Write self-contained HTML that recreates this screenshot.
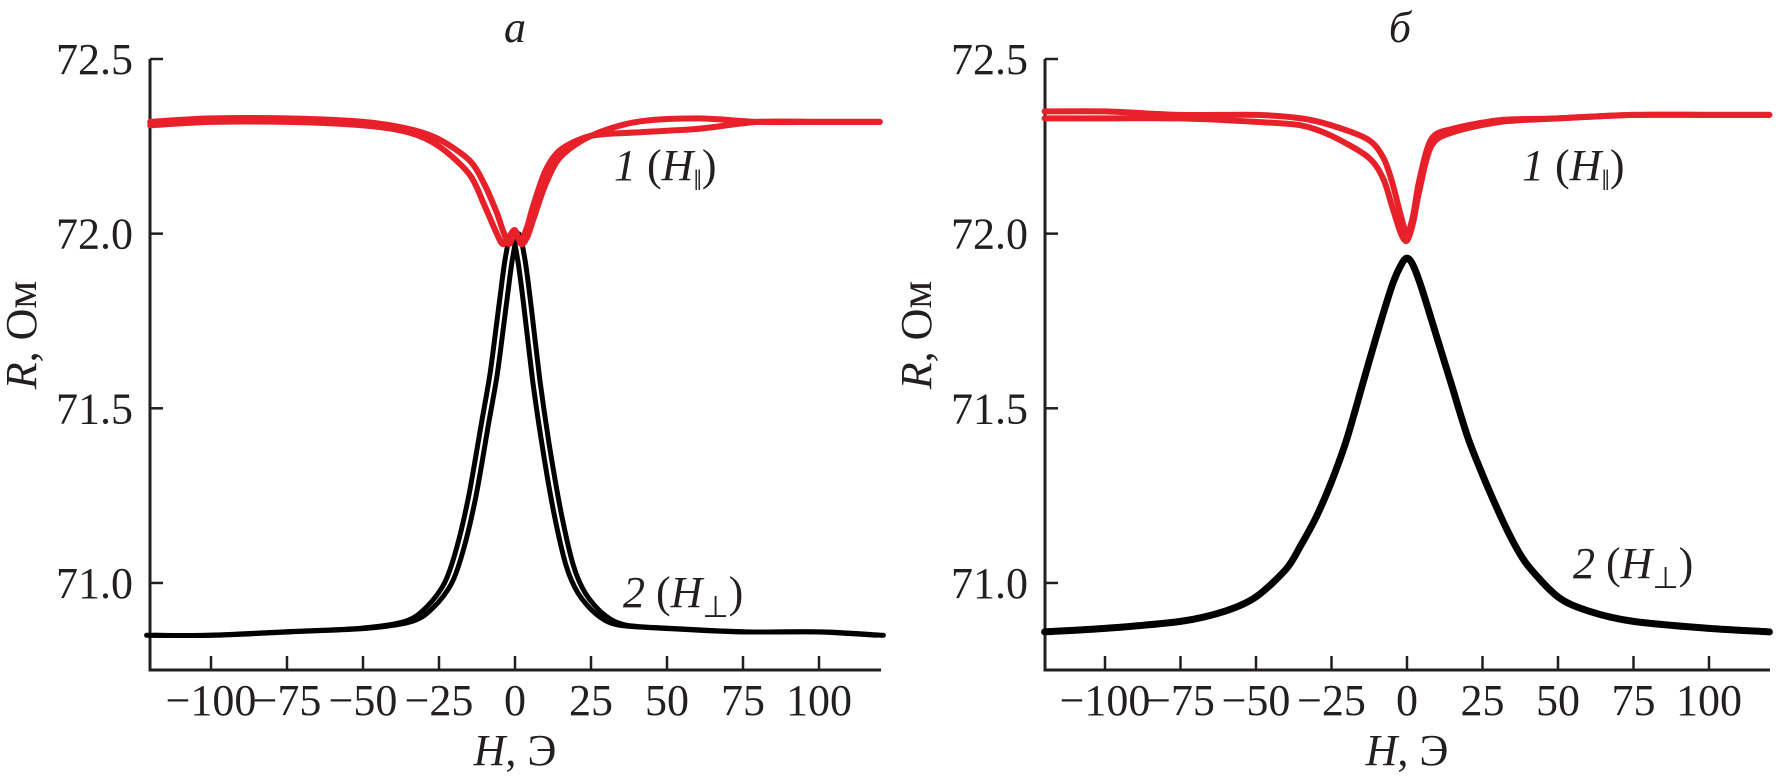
<!DOCTYPE html>
<html><head><meta charset="utf-8"><style>
html,body{margin:0;padding:0;background:#fff}
svg{display:block}
text{font-family:"Liberation Serif",serif;fill:#231f20}
</style></head><body>
<svg id="chart" width="1782" height="781" viewBox="0 0 1782 781">
<g id="panelA"></g>
<g id="panelB"></g>
</svg>
<script>
const xTicks=[-100,-75,-50,-25,0,25,50,75,100];
const yTicks=[71.0,71.5,72.0,72.5];
const yTickLabels=["71.0","71.5","72.0","72.5"];

const redA_H=[-120,-100,-75,-50,-35,-25,-15,-10,-6,-4,-2,0,2,4,6,10,15,25,40,60,80,100,120];
const redA1_R=[72.32,72.33,72.33,72.32,72.30,72.27,72.21,72.14,72.06,72.01,71.97,72.00,71.98,72.02,72.08,72.18,72.24,72.28,72.29,72.30,72.32,72.32,72.32];
const redA2_R=[72.31,72.32,72.32,72.31,72.29,72.25,72.17,72.08,72.00,71.97,71.99,72.01,71.97,71.99,72.04,72.14,72.22,72.28,72.32,72.33,72.32,72.32,72.32];
const blackA_H=[-120,-100,-75,-50,-35,-28,-22,-18,-14,-10,-7,-4,-2,0,2,4,7,10,14,18,22,28,35,50,75,100,120];
const blackA_R=[70.85,70.85,70.86,70.87,70.89,70.93,71.0,71.1,71.25,71.45,71.6,71.8,71.93,72.0,71.93,71.8,71.58,71.4,71.2,71.05,70.97,70.91,70.88,70.87,70.86,70.86,70.85];

const redB_H=[-120,-100,-75,-50,-35,-25,-13,-8,-5,-2,0,2,4,8,15,31,50,75,100,120];
const redB1_R=[72.35,72.35,72.34,72.34,72.33,72.31,72.27,72.22,72.15,72.05,72.0,72.05,72.15,72.27,72.30,72.325,72.33,72.34,72.34,72.34];
const redB2_R=[72.33,72.33,72.33,72.32,72.31,72.28,72.22,72.16,72.08,72.0,71.98,72.03,72.12,72.25,72.29,72.32,72.33,72.34,72.34,72.34];
const blackB_H=[-120,-100,-75,-60,-50,-40,-35,-30,-25,-20,-15,-10,-5,-2,0,2,5,10,15,20,25,30,35,40,50,60,75,100,120];
const blackB_R=[70.86,70.87,70.89,70.92,70.96,71.04,71.11,71.19,71.29,71.41,71.56,71.71,71.85,71.91,71.93,71.91,71.84,71.70,71.56,71.42,71.31,71.21,71.12,71.05,70.96,70.92,70.89,70.87,70.86];

const NS="http://www.w3.org/2000/svg";
function mk(tag,attrs,parent){const e=document.createElementNS(NS,tag);for(const k in attrs)e.setAttribute(k,attrs[k]);parent.appendChild(e);return e;}

function smooth(pts){
  let d='M'+pts[0][0].toFixed(1)+' '+pts[0][1].toFixed(1);
  for(let i=0;i<pts.length-1;i++){
    const p0=pts[Math.max(0,i-1)],p1=pts[i],p2=pts[i+1],p3=pts[Math.min(pts.length-1,i+2)];
    const t=0.15;
    const c1=[p1[0]+(p2[0]-p0[0])*t,p1[1]+(p2[1]-p0[1])*t];
    const c2=[p2[0]-(p3[0]-p1[0])*t,p2[1]-(p3[1]-p1[1])*t];
    d+=` C${c1[0].toFixed(1)} ${c1[1].toFixed(1)} ${c2[0].toFixed(1)} ${c2[1].toFixed(1)} ${p2[0].toFixed(1)} ${p2[1].toFixed(1)}`;
  }
  return d;
}

function drawPanel(g,cfg){
  const x=h=>cfg.x0+h*cfg.kx;
  const y=r=>59+(72.5-r)*349.3;
  const axisY=670;
  const ax=mk('path',{d:`M${cfg.left} 59 L${cfg.left} ${axisY} L${cfg.right} ${axisY}`,fill:'none',stroke:'#231f20','stroke-width':3},g);
  
  
  yTicks.forEach((v,i)=>{
    const t=mk('line',{x1:cfg.left,x2:cfg.left+13,y1:y(v),y2:y(v),stroke:'#231f20','stroke-width':2.5},g);
    
    
    const l=mk('text',{x:cfg.left-17,y:y(v)+15,'text-anchor':'end','font-size':44},g);
    l.textContent=yTickLabels[i];
    
    
  });
  xTicks.forEach(v=>{
    const t=mk('line',{x1:x(v),x2:x(v),y1:axisY,y2:axisY-14,stroke:'#231f20','stroke-width':2.5},g);
    
    
    const l=mk('text',{x:x(v),y:715,'text-anchor':'middle','font-size':44},g);
    l.textContent=v<0?'\u2212'+(-v):String(v);
    
    
  });
  const path=(H,R,dx)=>smooth(H.map((h,i)=>[x(h+dx),y(R[i])]));
  cfg.black.forEach(s=>{
    const p=mk('path',{d:path(s.H,s.R,s.dx),fill:'none',stroke:'#000','stroke-width':s.w,'stroke-linejoin':'round','stroke-linecap':'round'},g);
    
    
  });
  cfg.red.forEach(s=>{
    const p=mk('path',{d:path(s.H,s.R,0),fill:'none',stroke:'#e8202a','stroke-width':6,'stroke-linejoin':'round','stroke-linecap':'round'},g);
    
    
  });
  const ti=mk('text',{x:cfg.titleX,y:42,'text-anchor':'middle','font-size':44,'font-style':'italic'},g);
  ti.textContent=cfg.title;
  
  
  const xt=mk('text',{x:x(0),y:765,'text-anchor':'middle','font-size':44},g);
  xt.innerHTML='<tspan font-style="italic">H</tspan>, Э';
  
  
  const yt=mk('text',{x:0,y:0,'text-anchor':'middle','font-size':44,transform:`translate(${cfg.left-114},335) rotate(-90)`},g);
  yt.innerHTML='<tspan font-style="italic">R</tspan>, Ом';
  
  
  const l1=mk('text',{x:cfg.l1[0],y:cfg.l1[1],'font-size':44},g);
  l1.innerHTML='<tspan font-style="italic">1</tspan> (<tspan font-style="italic">H</tspan><tspan font-size="30" dy="10">‖</tspan><tspan dy="-10">)</tspan>';
  
  
  const l2=mk('text',{x:cfg.l2[0],y:cfg.l2[1],'font-size':44},g);
  l2.innerHTML='<tspan font-style="italic">2</tspan>  (<tspan font-style="italic">H</tspan><tspan font-size="30" dy="10">⊥</tspan><tspan dy="-10">)</tspan>';
  
  
}

drawPanel(document.getElementById('panelA'),{x0:515,kx:3.04,left:150,right:881,title:'а',titleX:515,
  black:[{H:blackA_H,R:blackA_R,dx:-1.2,w:5},{H:blackA_H,R:blackA_R,dx:1.2,w:5}],
  red:[{H:redA_H,R:redA1_R},{H:redA_H,R:redA2_R}],l1:[614,180],l2:[623,607]});
drawPanel(document.getElementById('panelB'),{x0:1407,kx:3.02,left:1045,right:1770,title:'б',titleX:1400,
  black:[{H:blackB_H,R:blackB_R,dx:0,w:7}],
  red:[{H:redB_H,R:redB1_R},{H:redB_H,R:redB2_R}],l1:[1522,180],l2:[1573,578]});
</script>
</body></html>
